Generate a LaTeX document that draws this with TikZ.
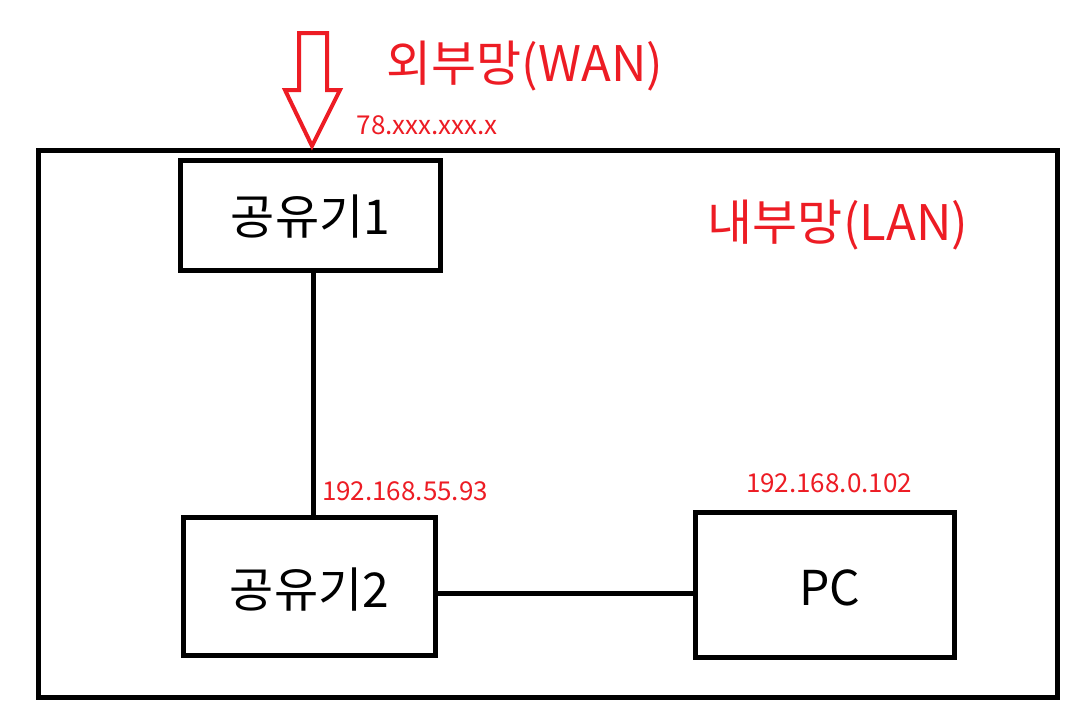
\documentclass[tikz,border=0pt]{standalone}
\usepackage{fontspec}
\setmainfont{Noto Sans CJK KR}
\definecolor{lblred}{HTML}{ED1C24}
\begin{document}
\begin{tikzpicture}[x=1pt,y=-1pt,
  devbox/.style={draw=black,line width=5pt,rectangle,inner sep=0pt,fill=white},
  devtext/.style={font=\fontsize{48}{50}\selectfont},
  netlabel/.style={text=lblred,font=\fontsize{49}{52}\selectfont},
  iplabel/.style={text=lblred,font=\fontsize{26}{28}\selectfont},
  wire/.style={line width=5pt}]
\useasboundingbox[fill=white] (0,0) rectangle (1082,724);
\node[devbox,minimum width=1019pt,minimum height=547pt] (lan) at (548,424) {};
\node[devbox,minimum width=260pt,minimum height=110pt] (r1) at (310.5,215.5) {};
\node[devbox,minimum width=252pt,minimum height=138pt] (r2) at (309.5,586.5) {};
\node[devbox,minimum width=259pt,minimum height=145pt] (pc) at (825,585) {};
\node[devtext] (r1t) at ([yshift=-1pt]r1.center) {공유기1};
\node[devtext] (r2t) at ([yshift=-3pt]r2.center) {공유기2};
\node[devtext] (pct) at ([xshift=5pt,yshift=-3pt]pc.center) {PC};
\draw[wire] ([xshift=2.5pt]r1.south) -- ([xshift=2.5pt]r1.south |- r2.north);
\draw[wire] ([yshift=-6.5pt]r2.east) -- ([yshift=-6.5pt]r2.east -| pc.west);
\coordinate (tip) at (312,146);
\draw[lblred,line width=4pt,fill=white,line join=miter]
  (299,33) -- (327,33) -- (327,90) -- (340,90) -- (tip) -- (285,90) -- (299,90) -- cycle;
\node[netlabel] (wan) at (525,66) {외부망(WAN)};
\node[netlabel] (lanlbl) at (838,225) {내부망(LAN)};
\node[iplabel] (wanip) at (427,125) {78.xxx.xxx.x};
\node[iplabel] (r2ip) at (405,491) {192.168.55.93};
\node[iplabel] (pcip) at (829,483) {192.168.0.102};
\end{tikzpicture}
\end{document}
